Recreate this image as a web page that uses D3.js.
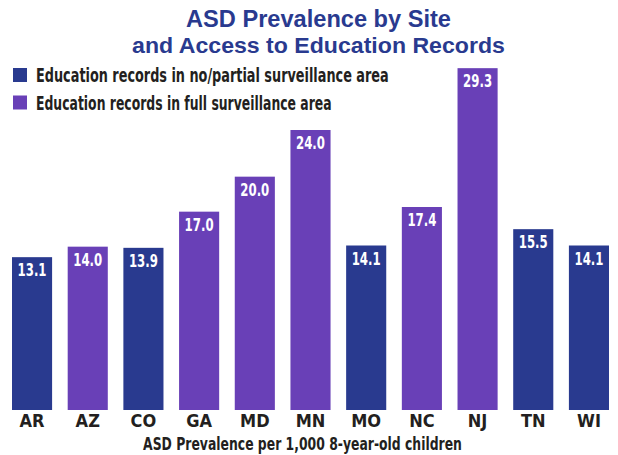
<!DOCTYPE html>
<html>
<head>
<meta charset="utf-8">
<script src="https://cdn.jsdelivr.net/npm/d3@7"></script>
<style>
    body { margin: 0; background: #fff; }
    svg { display: block; }
    .narrow { font-family: 'Liberation Sans Narrow', 'DejaVu Sans Condensed', 'DejaVu Sans', sans-serif; font-stretch: condensed; font-weight: 700; }
</style>
</head>
<body>
<div id="bar-chart"></div>
<script>
// datos del grafico
const sites = ["AR", "AZ", "CO", "GA", "MD", "MN", "MO", "NC", "NJ", "TN", "WI"];
const prevalence = [13.1, 14.0, 13.9, 17.0, 20.0, 24.0, 14.1, 17.4, 29.3, 15.5, 14.1];
const access = ["partial", "full", "partial", "full", "full", "full", "partial", "full", "full", "partial", "partial"];
const legendLabels = ["Education records in no/partial surveillance area", "Education records in full surveillance area"];
const titleLines = ["ASD Prevalence by Site", "and Access to Education Records"];
const xTitle = "ASD Prevalence per 1,000 8-year-old children";

const width = 618,
    height = 455,
    blue = "#293a8f",
    purple = "#6940b7",
    ink = "#231f20";

const data = sites.map((s, i) => ({ site: s, value: prevalence[i], access: access[i] }));

// estira el texto en horizontal hasta el ancho pedido (anchor = start o middle)
const ajustar = (sel, ancho) => {
    sel.each(function(d, i) {
        const t = d3.select(this);
        const x0 = +t.attr("x"), y0 = +t.attr("y");
        const w = this.getComputedTextLength();
        const k = (typeof ancho === "function" ? ancho(d, i) : ancho) / w;
        t.attr("x", 0).attr("y", 0)
            .attr("transform", `translate(${x0},${y0}) scale(${k},1)`);
    });
};

let contenedor = d3.select("#bar-chart")
    .append("svg")
    .attr("width", width)
    .attr("height", height);

let x = d3.scaleBand()
    .domain(sites)
    .range([12, 609])
    .paddingInner(0.28)
    .paddingOuter(0);

let y = d3.scaleLinear()
    .domain([0, 30])
    .range([410, 60]);

let color = d3.scaleOrdinal()
    .domain(["partial", "full"])
    .range([blue, purple]);

// titulo
contenedor.selectAll(".title")
    .data(titleLines)
    .enter().append("text")
    .attr("class", "title")
    .attr("x", 318.5)
    .attr("y", (d, i) => i === 0 ? 27 : 53)
    .attr("text-anchor", "middle")
    .style("font-family", "'Liberation Sans', Arial, sans-serif")
    .style("font-weight", 700)
    .style("font-size", "23px")
    .style("fill", blue)
    .text(d => d)
    .call(ajustar, (d, i) => i === 0 ? 265 : 373);

// barras
contenedor.selectAll("rect.bar")
    .data(data)
    .enter().append("rect")
    .attr("class", "bar")
    .attr("x", d => x(d.site))
    .attr("width", x.bandwidth())
    .attr("y", d => y(d.value))
    .attr("height", d => y(0) - y(d.value))
    .style("fill", d => color(d.access));

// valores dentro de las barras
contenedor.selectAll("text.value")
    .data(data)
    .enter().append("text")
    .attr("class", "value narrow")
    .attr("x", d => x(d.site) + x.bandwidth() / 2)
    .attr("y", d => y(d.value) + 19)
    .attr("text-anchor", "middle")
    .style("font-size", "17.5px")
    .style("fill", "#fff")
    .text(d => d3.format(".1f")(d.value))
    .call(ajustar, 29);

// el eje x
let ejeX = contenedor.append("g")
    .attr("transform", "translate(0, 410)")
    .call(d3.axisBottom(x).tickSize(0).tickPadding(17));

ejeX.select(".domain").remove();
ejeX.attr("font-family", null).attr("font-size", null);
ejeX.selectAll("text")
    .attr("class", "narrow")
    .attr("dy", 0)
    .style("font-size", "18px")
    .style("fill", ink);

// etiqueta del eje X
contenedor.append("text")
    .attr("class", "narrow")
    .attr("x", 302.5)
    .attr("y", 450)
    .attr("text-anchor", "middle")
    .style("font-size", "17.5px")
    .style("fill", ink)
    .text(xTitle)
    .call(ajustar, 319);

// leyenda
let leyenda = contenedor.selectAll(".legend")
    .data(legendLabels)
    .enter().append("g")
    .attr("class", "legend")
    .attr("transform", (d, i) => `translate(13, ${68 + i * 27.5})`);

leyenda.append("rect")
    .attr("width", 14)
    .attr("height", 14)
    .style("fill", (d, i) => color(color.domain()[i]));

leyenda.append("text")
    .attr("class", "narrow")
    .attr("x", 23)
    .attr("y", 14)
    .style("font-size", "19.5px")
    .style("fill", ink)
    .text(d => d)
    .call(ajustar, (d, i) => i === 0 ? 353 : 296);
</script>
</body>
</html>
